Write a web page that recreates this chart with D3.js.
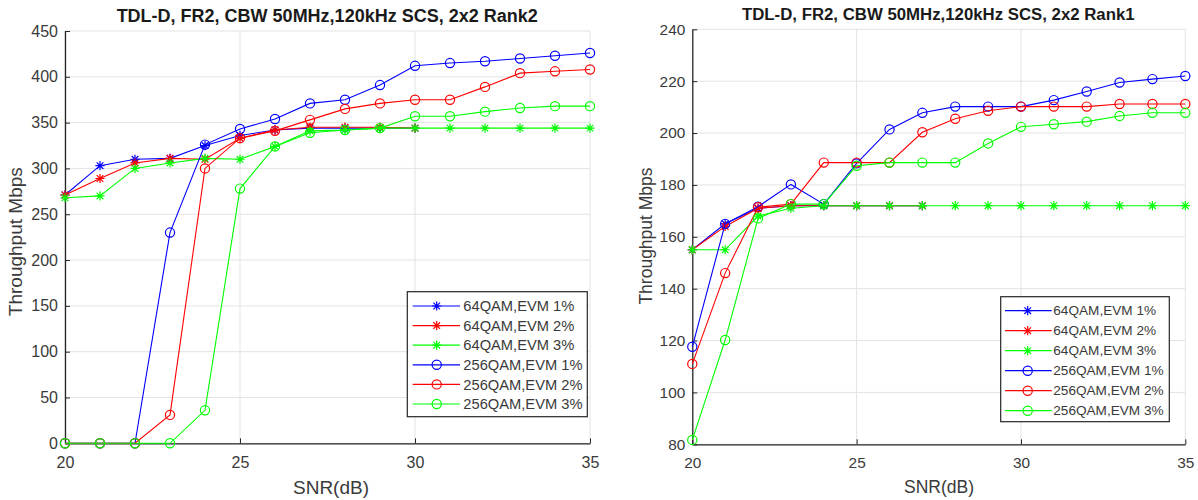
<!DOCTYPE html>
<html><head><meta charset="utf-8">
<script src="https://cdn.jsdelivr.net/npm/d3@7"></script>
<style>body{margin:0;background:#fff}svg{display:block}text{font-family:"Liberation Sans",Arial,sans-serif}</style>
</head><body><svg id="c" width="1198" height="500"></svg>
<script>
const snr = [20,21,22,23,24,25,26,27,28,29,30,31,32,33,34,35];
const seriesNames = ["64QAM,EVM 1%","64QAM,EVM 2%","64QAM,EVM 3%","256QAM,EVM 1%","256QAM,EVM 2%","256QAM,EVM 3%"];
const seriesColors = ["#0000ff","#ff0000","#00ff00","#0000ff","#ff0000","#00ff00"];
const seriesMarkers = ["star","star","star","circle","circle","circle"];

// Rank2 (left)
const r2_qam64_evm1 = [271,303,310,311,325,336,342,344,344,344,344,null,null,null,null,null];
const r2_qam64_evm2 = [271,289,306,311,310,333,342,345,345,345,344,null,null,null,null,null];
const r2_qam64_evm3 = [268,270,300,306,311,310,324,341,342,344,344,344,344,344,344,344];
const r2_qam256_evm1 = [0,0,0,230,326,343,354,371,375,391,412,415,417,420,423,426];
const r2_qam256_evm2 = [0,0,0,31,300,333,341,353,365,371,375,375,389,404,406,408];
const r2_qam256_evm3 = [0,0,0,0,36,278,324,339,342,344,357,357,362,366,368,368];
const r2_yTicks = [0,50,100,150,200,250,300,350,400,450];

// Rank1 (right)
const r1_qam64_evm1 = [155,165,171,172,172,172,172,172,null,null,null,null,null,null,null,null];
const r1_qam64_evm2 = [155,164,171,172,172,172,172,172,null,null,null,null,null,null,null,null];
const r1_qam64_evm3 = [155,155,168,171,172,172,172,172,172,172,172,172,172,172,172,172];
const r1_qam256_evm1 = [117.6,165,171.6,180.2,172.6,188.3,201.4,207.8,210.2,210.2,210.2,212.7,216,219.5,220.8,222];
const r1_qam256_evm2 = [111,146,171.4,172.6,188.6,188.6,188.6,200.3,205.5,208.6,210.2,210.2,210.2,211.2,211.2,211.2];
const r1_qam256_evm3 = [81.7,120.2,167.1,172.6,172.6,187.4,188.6,188.6,188.6,196,202.4,203.4,204.4,206.6,207.8,207.8];
const r1_yTicks = [80,100,120,140,160,180,200,220,240];

const xTicks = [20,25,30,35];
const titles = ["TDL-D, FR2, CBW 50MHz,120kHz SCS, 2x2 Rank2","TDL-D, FR2, CBW 50MHz,120kHz SCS, 2x2 Rank1"];
const yLabel = "Throughput Mbps";
const xLabel = "SNR(dB)";

const panels = [
  {titleText:titles[0],
   series:[r2_qam64_evm1,r2_qam64_evm2,r2_qam64_evm3,r2_qam256_evm1,r2_qam256_evm2,r2_qam256_evm3],
   yTicks:r2_yTicks, yDomain:[0,450],
   x0:65, x1:590, y0:443.3, y1:31,
   tickFs:16, labelFs:19, titleFs:18, legFs:14.7,
   titlePos:[327.2,16], ylab:[15,241.7], xlab:[331,487],
   leg:{x:407.3,y:291.7,w:180,h:125,row0:306,step:19.6,lx0:412.7,lx1:460,mx:436.7,tx:463.3}},
  {titleText:titles[1],
   series:[r1_qam64_evm1,r1_qam64_evm2,r1_qam64_evm3,r1_qam256_evm1,r1_qam256_evm2,r1_qam256_evm3],
   yTicks:r1_yTicks, yDomain:[80,240],
   x0:692.3, x1:1185.3, y0:444.3, y1:29.3,
   tickFs:15.4, labelFs:17.5, titleFs:16.8, legFs:13.6,
   titlePos:[938.3,14.5], ylab:[646,236], xlab:[939,487],
   leg:{x:1000.7,y:296.7,w:168.6,h:125,row0:310.7,step:20,lx0:1005,lx1:1051.7,mx:1027.7,tx:1053.3}}
];

const svg = d3.select("#c");
const axisCol = "#262626", gridCol = "#e3e3e3", txtCol = "#3a3a3a";

function drawMarker(g, type, x, y, color){
  const s = 4.6;
  if(type==="circle"){
    g.append("circle").attr("cx",x).attr("cy",y).attr("r",s).attr("fill","none").attr("stroke",color).attr("stroke-width",1.2);
  } else {
    const d = s*0.72;
    const p = `M${x-s},${y}L${x+s},${y}M${x},${y-s}L${x},${y+s}M${x-d},${y-d}L${x+d},${y+d}M${x-d},${y+d}L${x+d},${y-d}`;
    g.append("path").attr("d",p).attr("stroke",color).attr("stroke-width",1.2).attr("fill","none");
  }
}

panels.forEach(P=>{
  const x = d3.scaleLinear().domain([20,35]).range([P.x0,P.x1]);
  const y = d3.scaleLinear().domain(P.yDomain).range([P.y0,P.y1]);
  const g = svg.append("g");
  // grid
  g.append("g").selectAll("line").data(xTicks).join("line")
    .attr("x1",d=>x(d)).attr("x2",d=>x(d)).attr("y1",P.y0).attr("y2",P.y1)
    .attr("stroke",gridCol).attr("stroke-width",1);
  g.append("g").selectAll("line").data(P.yTicks).join("line")
    .attr("x1",P.x0).attr("x2",P.x1).attr("y1",d=>y(d)).attr("y2",d=>y(d))
    .attr("stroke",gridCol).attr("stroke-width",1);
  // axes
  const xa = g.append("g").attr("transform",`translate(0,${P.y0})`)
    .call(d3.axisBottom(x).tickValues(xTicks).tickSizeInner(-5).tickSizeOuter(0).tickPadding(13));
  const ya = g.append("g").attr("transform",`translate(${P.x0},0)`)
    .call(d3.axisLeft(y).tickValues(P.yTicks).tickSizeInner(-5).tickSizeOuter(0).tickPadding(7));
  [xa,ya].forEach(a=>{
    a.select(".domain").attr("stroke",axisCol).attr("stroke-width",1.3);
    a.selectAll(".tick line").attr("stroke",axisCol).attr("stroke-width",1);
    a.selectAll(".tick text").attr("fill",txtCol).attr("font-size",P.tickFs).attr("font-family","Liberation Sans, Arial, sans-serif");
  });
  // lines
  const line = d3.line().defined(d=>d[1]!==null).x(d=>x(d[0])).y(d=>y(d[1]));
  P.series.forEach((vals,i)=>{
    const pts = snr.map((s,j)=>[s,vals[j]]);
    g.append("path").datum(pts).attr("d",line).attr("fill","none")
      .attr("stroke",seriesColors[i]).attr("stroke-width",1.1);
    const mg = g.append("g");
    pts.filter(p=>p[1]!==null).forEach(p=>drawMarker(mg,seriesMarkers[i],x(p[0]),y(p[1]),seriesColors[i]));
  });
  // title
  g.append("text").attr("x",P.titlePos[0]).attr("y",P.titlePos[1]).attr("dy","0.35em")
    .attr("text-anchor","middle").attr("font-weight","bold").attr("font-size",P.titleFs).attr("fill","#1a1a1a").text(P.titleText);
  // axis labels
  g.append("text").attr("transform",`translate(${P.ylab[0]},${P.ylab[1]}) rotate(-90)`).attr("dy","0.35em")
    .attr("text-anchor","middle").attr("font-size",P.labelFs).attr("fill",txtCol).text(yLabel);
  g.append("text").attr("x",P.xlab[0]).attr("y",P.xlab[1]).attr("dy","0.35em")
    .attr("text-anchor","middle").attr("font-size",P.labelFs).attr("fill",txtCol).text(xLabel);
  // legend
  const L = P.leg;
  const lg = g.append("g");
  lg.append("rect").attr("x",L.x).attr("y",L.y).attr("width",L.w).attr("height",L.h)
    .attr("fill","#fff").attr("stroke",axisCol).attr("stroke-width",1.2);
  seriesNames.forEach((nm,i)=>{
    const ry = L.row0 + i*L.step;
    lg.append("line").attr("x1",L.lx0).attr("x2",L.lx1).attr("y1",ry).attr("y2",ry)
      .attr("stroke",seriesColors[i]).attr("stroke-width",1.2);
    drawMarker(lg,seriesMarkers[i],L.mx,ry,seriesColors[i]);
    lg.append("text").attr("x",L.tx).attr("y",ry).attr("dy","0.35em")
      .attr("font-size",P.legFs).attr("fill",txtCol).text(nm);
  });
});
</script></body></html>
